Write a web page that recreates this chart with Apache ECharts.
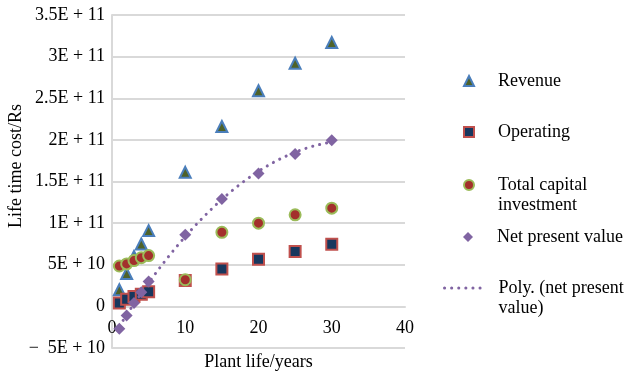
<!DOCTYPE html>
<html>
<head>
<meta charset="utf-8">
<script src="https://cdn.jsdelivr.net/npm/echarts@6/dist/echarts.min.js"></script>
<style>
  html, body { margin: 0; padding: 0; background: #fff; }
  #chart { width: 628px; height: 374px; }
</style>
</head>
<body>
<div id="chart"></div>
<script>
// Plant life in years
const years = [1, 2, 3, 4, 5, 10, 15, 20, 25, 30];
// Life time cost in Rs
const revenue   = [2.0e10, 3.95e10, 6.0e10, 7.5e10, 9.1e10, 16.1e10, 21.6e10, 25.9e10, 29.2e10, 31.7e10];
const operating = [0.4e10, 0.85e10, 1.2e10, 1.45e10, 1.75e10, 3.1e10, 4.5e10, 5.65e10, 6.6e10, 7.45e10];
const capital   = [4.85e10, 5.1e10, 5.5e10, 5.85e10, 6.1e10, 3.2e10, 8.9e10, 10.0e10, 11.0e10, 11.8e10];
const npv       = [-2.7e10, -1.1e10, 0.4e10, 1.7e10, 3.0e10, 8.6e10, 12.9e10, 15.95e10, 18.3e10, 19.95e10];

const seriesNames = ['Revenue', 'Operating', 'Total capital investment', 'Net present value', 'Poly. (net present value)'];
const xTicks = [0, 10, 20, 30, 40];
const yTicks = [-5e10, 0, 5e10, 1e11, 1.5e11, 2e11, 2.5e11, 3e11, 3.5e11];

const FONT = '"Liberation Serif", "Times New Roman", serif';
const FS = 18;
const GRID = { left: 112, right: 223, top: 15, bottom: 26 };

// Second-order least-squares trendline through the net present value points
function quadFit(xs, ys) {
  let s = [0, 0, 0, 0, 0], t = [0, 0, 0];
  xs.forEach((x, i) => {
    for (let k = 0; k < 5; k++) s[k] += Math.pow(x, k);
    for (let k = 0; k < 3; k++) t[k] += ys[i] * Math.pow(x, k);
  });
  const A = [[s[0], s[1], s[2], t[0]], [s[1], s[2], s[3], t[1]], [s[2], s[3], s[4], t[2]]];
  for (let c = 0; c < 3; c++) {
    for (let r = c + 1; r < 3; r++) {
      const f = A[r][c] / A[c][c];
      for (let k = c; k < 4; k++) A[r][k] -= f * A[c][k];
    }
  }
  const b = [0, 0, 0];
  for (let r = 2; r >= 0; r--) {
    let v = A[r][3];
    for (let k = r + 1; k < 3; k++) v -= A[r][k] * b[k];
    b[r] = v / A[r][r];
  }
  return b;
}
const coef = quadFit(years, npv);
const trend = [];
for (let x = years[0]; x <= years[years.length - 1] + 1e-9; x += 0.25) {
  trend.push([x, coef[0] + coef[1] * x + coef[2] * x * x]);
}

function sciLabel(v) {
  if (v === 0) return '0';
  const neg = v < 0;
  const a = Math.abs(v);
  const e = Math.floor(Math.log10(a) + 1e-9);
  const m = +(a / Math.pow(10, e)).toFixed(2);
  return (neg ? '\u2212  ' : '') + m + 'E + ' + e;
}

const pairs = arr => years.map((x, i) => [x, arr[i]]);

// The horizontal axis crosses the vertical one at zero: lift it from the grid bottom
const plotHeight = 374 - GRID.top - GRID.bottom;
const zeroLift = plotHeight * (0 - yTicks[0]) / (yTicks[yTicks.length - 1] - yTicks[0]);

// Two-line entries keep their first line level with the icon
const legendText = {
  'Total capital investment': '\nTotal capital\ninvestment',
  'Poly. (net present value)': '\nPoly. (net present\nvalue)'
};

const legendEntry = (name, left, top, width, padLeft, extra) => Object.assign({
  data: [name],
  left: left,
  top: top,
  padding: 0,
  itemWidth: width,
  itemHeight: 10,
  selectedMode: false,
  formatter: n => legendText[n] || n,
  textStyle: { fontFamily: FONT, fontSize: FS, color: '#000', lineHeight: 20, padding: [0, 0, 0, padLeft] }
}, extra || {});

const chart = echarts.init(document.getElementById('chart'), null, { renderer: 'canvas' });
chart.setOption({
  animation: false,
  backgroundColor: '#ffffff',
  textStyle: { fontFamily: FONT },
  grid: Object.assign({ containLabel: false, outerBoundsMode: 'none' }, GRID),
  legend: [
    legendEntry('Revenue', 463, 71, 10, 19),
    legendEntry('Operating', 463, 122, 10, 19),
    legendEntry('Total capital investment', 463, 155, 10, 19),
    legendEntry('Net present value', 463, 227, 10, 19),
    legendEntry('Poly. (net present value)', 443, 258, 42, 7, {
      lineStyle: { width: 3, type: [0.1, 7], cap: 'round', color: '#8064a2' },
      itemStyle: { opacity: 0 }
    })
  ],
  xAxis: {
    type: 'value',
    min: xTicks[0],
    max: xTicks[xTicks.length - 1],
    interval: xTicks[1] - xTicks[0],
    position: 'bottom',
    offset: -zeroLift,
    name: 'Plant life/years',
    nameLocation: 'middle',
    nameGap: 47,
    nameTextStyle: { fontFamily: FONT, fontSize: FS, color: '#000' },
    axisLine: { onZero: false, lineStyle: { color: '#d9d9d9', width: 2 } },
    axisTick: { show: false },
    splitLine: { show: false },
    axisLabel: { fontFamily: FONT, fontSize: FS, color: '#000', margin: 13 }
  },
  yAxis: {
    type: 'value',
    min: yTicks[0],
    max: yTicks[yTicks.length - 1],
    interval: yTicks[1] - yTicks[0],
    name: 'Life time cost/Rs',
    nameLocation: 'middle',
    nameGap: 83,
    nameTextStyle: { fontFamily: FONT, fontSize: FS, color: '#000', padding: [0, 0, 0, 31] },
    axisLine: { show: true, onZero: false, lineStyle: { color: '#d9d9d9', width: 2 } },
    axisTick: { show: false },
    splitLine: { show: true, lineStyle: { color: '#d9d9d9', width: 2 } },
    axisLabel: { fontFamily: FONT, fontSize: FS, color: '#000', margin: 7, formatter: sciLabel }
  },
  series: [
    {
      name: seriesNames[0], type: 'scatter', symbol: 'triangle', symbolSize: 11,
      itemStyle: { color: '#4f6228', borderColor: '#4a7ebb', borderWidth: 2, opacity: 1 },
      data: pairs(revenue)
    },
    {
      name: seriesNames[1], type: 'scatter', symbol: 'rect', symbolSize: 11,
      itemStyle: { color: '#17375e', borderColor: '#c0504d', borderWidth: 2, opacity: 1 },
      data: pairs(operating)
    },
    {
      name: seriesNames[2], type: 'scatter', symbol: 'circle', symbolSize: 11,
      itemStyle: { color: '#a3302c', borderColor: '#9bbb59', borderWidth: 2, opacity: 1 },
      data: pairs(capital)
    },
    {
      name: seriesNames[3], type: 'scatter', symbol: 'diamond', symbolSize: 12,
      itemStyle: { color: '#8064a2', opacity: 1 },
      data: pairs(npv)
    },
    {
      name: seriesNames[4], type: 'line', symbol: 'none', smooth: false,
      lineStyle: { color: '#8064a2', width: 3, type: [0.1, 7], cap: 'round' },
      itemStyle: { color: '#8064a2' },
      data: trend
    }
  ]
});
</script>
</body>
</html>
